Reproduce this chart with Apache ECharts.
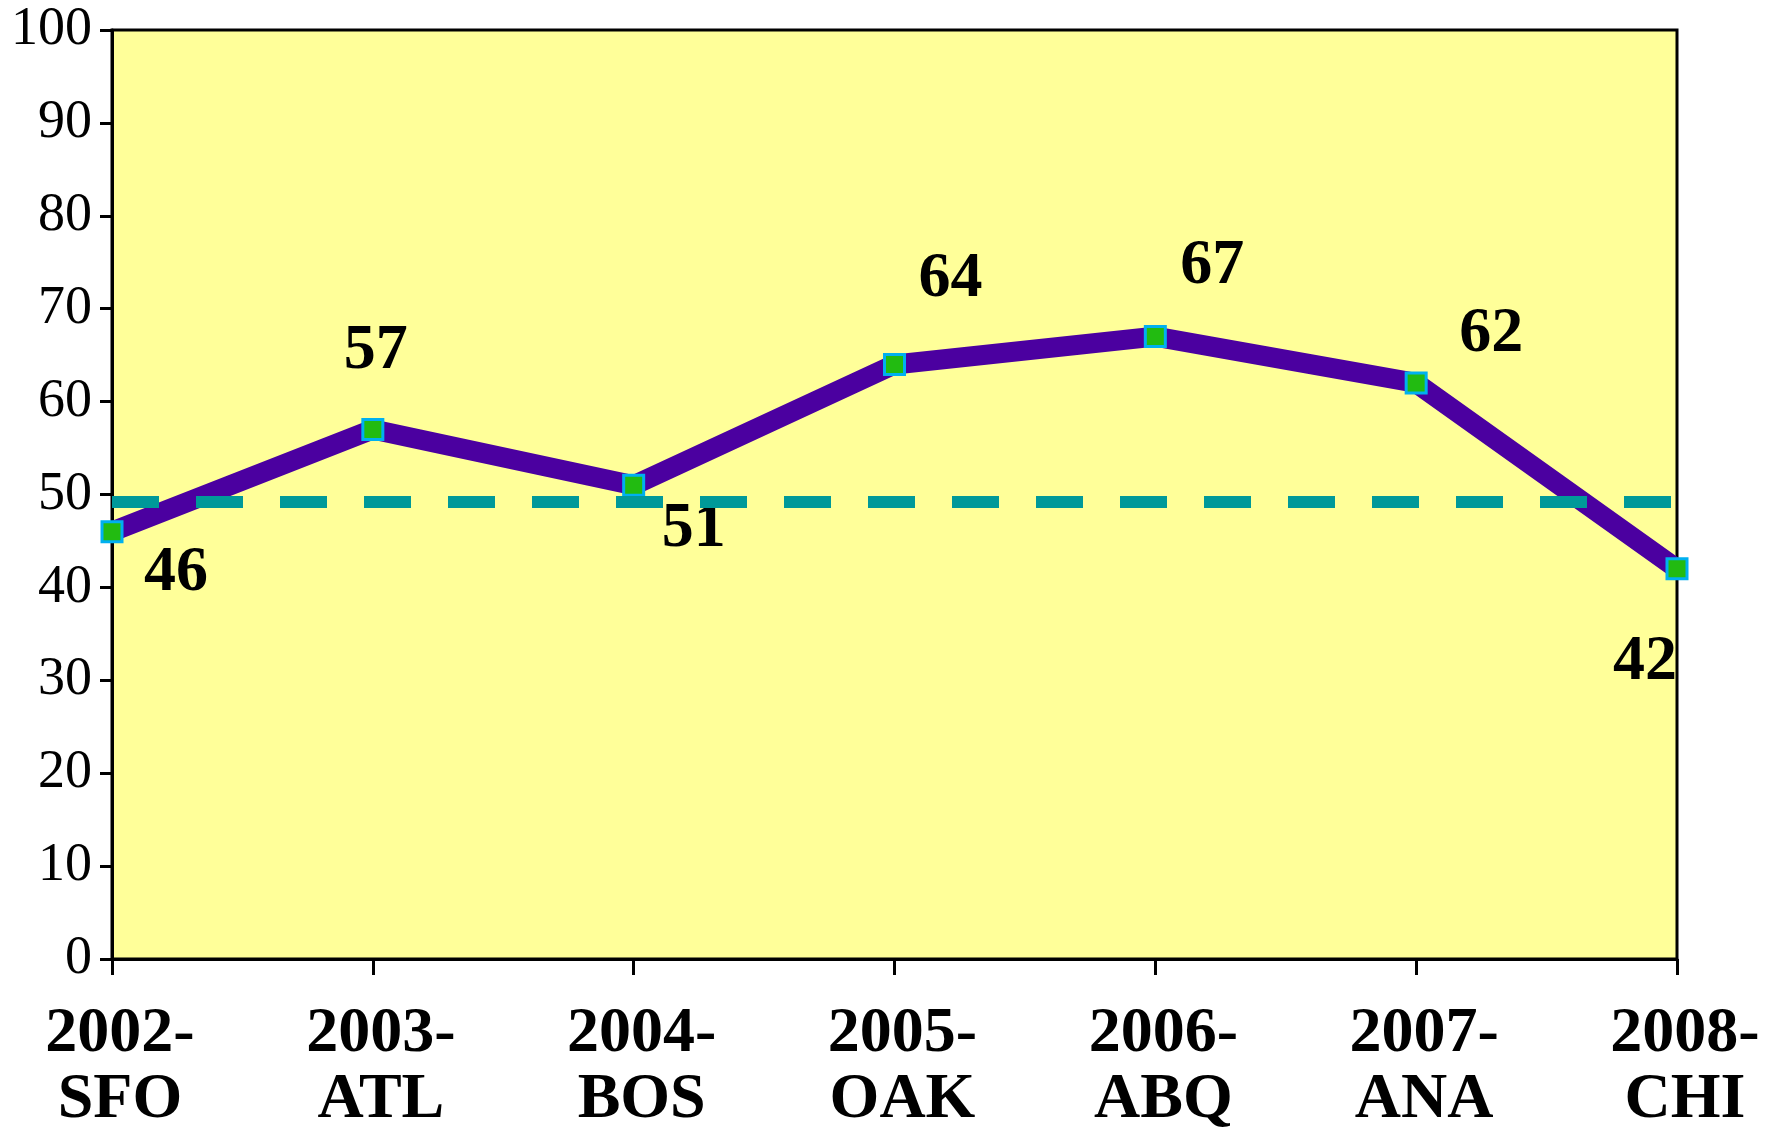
<!DOCTYPE html>
<html>
<head>
<meta charset="utf-8">
<script src="https://cdn.jsdelivr.net/npm/echarts@6/dist/echarts.min.js"></script>
<style>
  html, body { margin: 0; padding: 0; background: #fff; }
  #chart { width: 1778px; height: 1133px; }
</style>
</head>
<body>
<div id="chart"></div>
<script>
// data
const categories = ['2002-\nSFO', '2003-\nATL', '2004-\nBOS', '2005-\nOAK', '2006-\nABQ', '2007-\nANA', '2008-\nCHI'];
const scores = [46, 57, 51, 64, 67, 62, 42];
const referenceLevel = 49.2;
const yTicks = { min: 0, max: 100, interval: 10 };

// where each value label sits relative to its point (px)
const labelShift = [[64, 42], [3, -78], [60, 44], [56, -85], [57, -70], [75, -49], [-32, 94]];

const serif = "'Liberation Serif', 'Times New Roman', Times, serif";

const chart = echarts.init(document.getElementById('chart'));

const option = {
    animation: false,
    backgroundColor: '#ffffff',
    grid: {
        left: 112,
        right: 101,
        top: 30,
        bottom: 171,
        show: true,
        backgroundColor: '#FFFF99',
        borderColor: '#000',
        borderWidth: 3
    },
    xAxis: {
        type: 'category',
        data: categories,
        boundaryGap: false,
        axisLine: { lineStyle: { color: '#000', width: 3 } },
        axisTick: { show: true, alignWithLabel: true, length: 16, lineStyle: { color: '#000', width: 3 } },
        axisLabel: {
            color: '#000',
            fontFamily: serif,
            fontWeight: 'bold',
            fontSize: 64,
            lineHeight: 66,
            margin: 42,
            padding: [0, 0, 0, 16],
            interval: 0
        },
        splitLine: { show: false }
    },
    yAxis: {
        type: 'value',
        min: yTicks.min,
        max: yTicks.max,
        interval: yTicks.interval,
        axisLine: { show: true, lineStyle: { color: '#000', width: 3 } },
        axisTick: { show: true, length: 12, lineStyle: { color: '#000', width: 3 } },
        axisLabel: {
            color: '#000',
            fontFamily: serif,
            fontSize: 54,
            margin: 20
        },
        splitLine: { show: false }
    },
    series: [
        {
            type: 'line',
            data: scores.map((v, i) => ({
                value: v,
                label: { offset: labelShift[i] }
            })),
            lineStyle: { color: '#4B00A0', width: 20, join: 'miter' },
            symbol: 'rect',
            symbolSize: 20,
            showAllSymbol: true,
            itemStyle: { color: '#22BB11', borderColor: '#00B0F0', borderWidth: 3 },
            label: {
                show: true,
                position: 'inside',
                color: '#000',
                fontFamily: serif,
                fontWeight: 'bold',
                fontSize: 64
            },
            markLine: {
                silent: true,
                symbol: 'none',
                label: { show: false },
                lineStyle: { color: '#009999', width: 12, type: [47, 37], opacity: 1 },
                data: [{ yAxis: referenceLevel }]
            },
            z: 3
        }
    ]
};

chart.setOption(option);
</script>
</body>
</html>
